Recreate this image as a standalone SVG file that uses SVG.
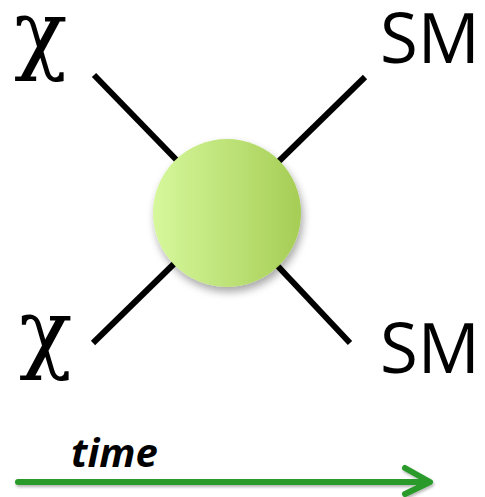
<svg xmlns="http://www.w3.org/2000/svg" width="485" height="497" viewBox="0 0 485 497">
<defs>
<linearGradient id="g" x1="0" y1="0" x2="1" y2="0">
<stop offset="0" stop-color="#d6f89c"/>
<stop offset="1" stop-color="#a6cd55"/>
</linearGradient>
<filter id="sh" x="-30%" y="-30%" width="160%" height="170%">
<feGaussianBlur in="SourceAlpha" stdDeviation="4"/>
<feOffset dx="2" dy="5"/>
<feComponentTransfer><feFuncA type="linear" slope="0.35"/></feComponentTransfer>
<feMerge><feMergeNode/><feMergeNode in="SourceGraphic"/></feMerge>
</filter>
<filter id="sh2" x="-5%" y="-50%" width="110%" height="200%">
<feGaussianBlur in="SourceAlpha" stdDeviation="1.5"/>
<feOffset dx="1" dy="2"/>
<feComponentTransfer><feFuncA type="linear" slope="0.3"/></feComponentTransfer>
<feMerge><feMergeNode/><feMergeNode in="SourceGraphic"/></feMerge>
</filter>
</defs>
<style>
.leg{stroke:#000;stroke-width:6;fill:none}
.chi{font-family:"DejaVu Serif",serif;font-size:88px;fill:#000}
.sm{font-family:"Open Sans","DejaVu Sans",sans-serif;font-size:69px;fill:#000}
.t{font-family:"Open Sans",Lato,sans-serif;font-weight:bold;font-style:italic;font-size:40px;fill:#000}
</style>
<g id="connectors">
<line class="leg" x1="94" y1="75" x2="227" y2="212"/>
<line class="leg" x1="365" y1="77" x2="227" y2="212"/>
<line class="leg" x1="93" y1="343" x2="227" y2="212"/>
<line class="leg" x1="350" y1="343" x2="227" y2="212"/>
</g>
<g id="vertex">
<circle cx="227" cy="213" r="74" fill="url(#g)" filter="url(#sh)"/>
</g>
<g id="chi-top"><text class="chi" x="14" y="63">χ</text></g>
<g id="chi-bottom"><text class="chi" x="19" y="362">χ</text></g>
<g id="sm-top"><text class="sm" x="380" y="63">SM</text></g>
<g id="sm-bottom"><text class="sm" x="380" y="373">SM</text></g>
<g id="time">
<text class="t" x="71" y="467">time</text>
<g filter="url(#sh2)" stroke="#2a9a2a" stroke-width="6" fill="none" stroke-linecap="round" stroke-linejoin="round">
<line x1="18" y1="482" x2="428" y2="482"/>
<polyline points="405,468 430,482 405,494"/>
</g>
</g>
</svg>
